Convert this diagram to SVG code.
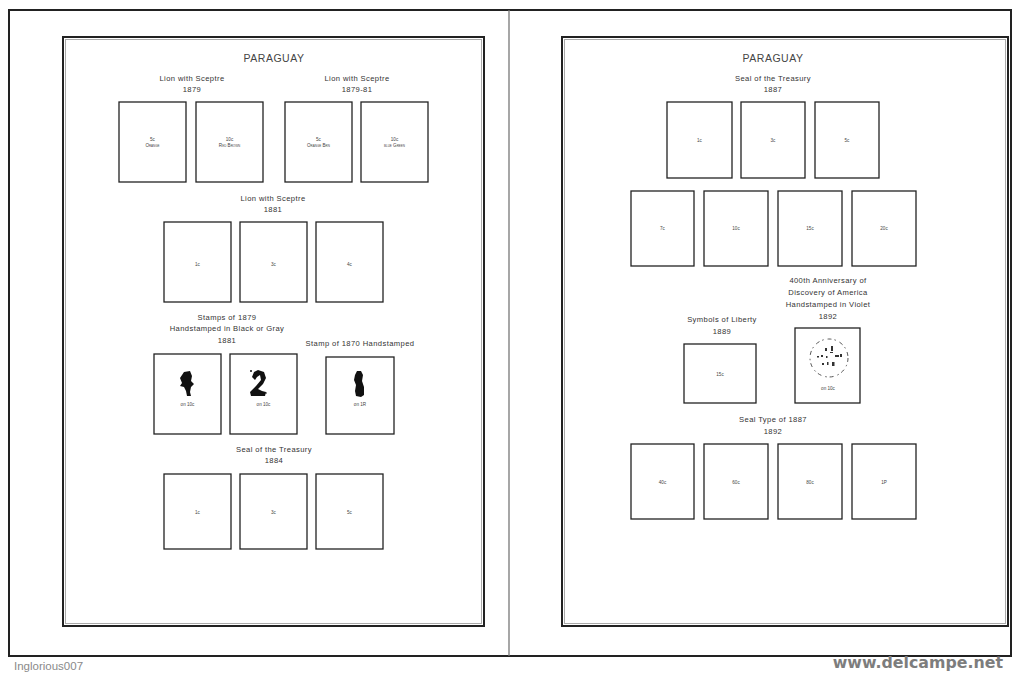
<svg xmlns="http://www.w3.org/2000/svg" width="1020" height="677" viewBox="0 0 1020 677">
<style>
.frame{fill:none;stroke:#222;stroke-width:2}
.pg{fill:#fff;stroke:#222;stroke-width:2}
.pgin{fill:none;stroke:#aaa;stroke-width:1}
.st{fill:#fff;stroke:#222;stroke-width:1.3}
.ttl{font-family:"Liberation Sans",Arial,sans-serif;font-size:10.5px;fill:#444;letter-spacing:0.5px;text-anchor:middle}
.hd{font-family:"Liberation Sans",Arial,sans-serif;font-size:7.6px;fill:#333;letter-spacing:0.4px;text-anchor:middle}
.sm{font-family:"Liberation Sans",Arial,sans-serif;font-size:4.6px;fill:#444;text-anchor:middle}
.sc{font-variant:small-caps}
.ink{fill:#111}
.ft1{font-family:"Liberation Sans",Arial,sans-serif;font-size:11.5px;fill:#8a8a8a}
.ft2{font-family:"DejaVu Sans",Verdana,sans-serif;font-size:15.8px;font-weight:bold;fill:#7d7d7d;text-anchor:end}
</style>
<rect width="1020" height="677" fill="#fff"/>
<rect class="frame" x="9" y="10" width="1002" height="646"/>
<line x1="509" y1="10" x2="509" y2="656" stroke="#777" stroke-width="1.3"/>

<g id="left-page">
<rect class="pg" x="63" y="37" width="421" height="589"/>
<rect class="pgin" x="65.5" y="39.5" width="416" height="584"/>
<text class="ttl" x="274" y="62">PARAGUAY</text>
</g>
<g id="right-page">
<rect class="pg" x="562" y="37" width="446" height="589"/>
<rect class="pgin" x="564.5" y="39.5" width="441" height="584"/>
<text class="ttl" x="773" y="62">PARAGUAY</text>
</g>

<g id="lion-1879">
<text class="hd" x="192" y="81">Lion with Sceptre</text>
<text class="hd" x="192" y="92">1879</text>
<rect class="st" x="119" y="102" width="67" height="80"/>
<text class="sm" x="152.5" y="141">5c</text>
<text class="sm sc" x="152.5" y="147">Orange</text>
<rect class="st" x="196" y="102" width="67" height="80"/>
<text class="sm" x="229.5" y="141">10c</text>
<text class="sm sc" x="229.5" y="147">Red Brown</text>
</g>
<g id="lion-1879-81">
<text class="hd" x="357" y="81">Lion with Sceptre</text>
<text class="hd" x="357" y="92">1879-81</text>
<rect class="st" x="285" y="102" width="67" height="80"/>
<text class="sm" x="318.5" y="141">5c</text>
<text class="sm sc" x="318.5" y="147">Orange Brn</text>
<rect class="st" x="361" y="102" width="67" height="80"/>
<text class="sm" x="394.5" y="141">10c</text>
<text class="sm sc" x="394.5" y="147">blue Green</text>
</g>

<g id="lion-1881">
<text class="hd" x="273" y="201">Lion with Sceptre</text>
<text class="hd" x="273" y="212">1881</text>
<rect class="st" x="164" y="222" width="67" height="80"/>
<text class="sm" x="197.5" y="266">1c</text>
<rect class="st" x="240" y="222" width="67" height="80"/>
<text class="sm" x="273.5" y="266">3c</text>
<rect class="st" x="316" y="222" width="67" height="80"/>
<text class="sm" x="349.5" y="266">4c</text>
</g>

<g id="handstamped-1881">
<text class="hd" x="227" y="320">Stamps of 1879</text>
<text class="hd" x="227" y="331">Handstamped in Black or Gray</text>
<text class="hd" x="227" y="343">1881</text>
<rect class="st" x="154" y="354" width="67" height="80"/>
<path class="ink" d="M184 372 L190 371 L192 376 L191 381 L194 384 L191 387 L190 392 L191 396 L187 396 L186 391 L184 387 L180 386 L182 383 L180 378 Z"/>
<text class="sm" x="187.5" y="406">on 10c</text>
<rect class="st" x="230" y="354" width="67" height="80"/>
<path class="ink" d="M254 372 L258 370 L264 372 L266 378 L263 384 L258 389 L262 391 L266 392 L265 396 L251 396 L250 392 L256 386 L261 380 L260 375 L257 377 L255 380 L252 377 Z"/>
<circle class="ink" cx="251" cy="371" r="1"/>
<circle class="ink" cx="266" cy="393" r="0.8"/>
<text class="sm" x="263.5" y="406">on 10c</text>
</g>
<g id="handstamped-1870">
<text class="hd" x="360" y="346">Stamp of 1870 Handstamped</text>
<rect class="st" x="326" y="357" width="68" height="77"/>
<path class="ink" d="M357 371 L361 371 L363 375 L362 381 L364 387 L364 395 L361 397 L356 396 L355 391 L356 385 L354 380 L355 375 Z"/>
<text class="sm" x="360" y="406">on 1R</text>
</g>

<g id="seal-1884">
<text class="hd" x="274" y="452">Seal of the Treasury</text>
<text class="hd" x="274" y="463">1884</text>
<rect class="st" x="164" y="474" width="67" height="75"/>
<text class="sm" x="197.5" y="514">1c</text>
<rect class="st" x="240" y="474" width="67" height="75"/>
<text class="sm" x="273.5" y="514">3c</text>
<rect class="st" x="316" y="474" width="67" height="75"/>
<text class="sm" x="349.5" y="514">5c</text>
</g>

<g id="seal-1887">
<text class="hd" x="773" y="81">Seal of the Treasury</text>
<text class="hd" x="773" y="92">1887</text>
<rect class="st" x="667" y="102" width="65" height="76"/>
<text class="sm" x="699.5" y="142">1c</text>
<rect class="st" x="741" y="102" width="64" height="76"/>
<text class="sm" x="773" y="142">3c</text>
<rect class="st" x="815" y="102" width="64" height="76"/>
<text class="sm" x="847" y="142">5c</text>
<rect class="st" x="631" y="191" width="63" height="75"/>
<text class="sm" x="662.5" y="230">7c</text>
<rect class="st" x="704" y="191" width="64" height="75"/>
<text class="sm" x="736" y="230">10c</text>
<rect class="st" x="778" y="191" width="64" height="75"/>
<text class="sm" x="810" y="230">15c</text>
<rect class="st" x="852" y="191" width="64" height="75"/>
<text class="sm" x="884" y="230">20c</text>
</g>

<g id="liberty-1889">
<text class="hd" x="722" y="322">Symbols of Liberty</text>
<text class="hd" x="722" y="334">1889</text>
<rect class="st" x="684" y="344" width="72" height="59"/>
<text class="sm" x="720" y="376">15c</text>
</g>

<g id="discovery-1892">
<text class="hd" x="828" y="283">400th Anniversary of</text>
<text class="hd" x="828" y="295">Discovery of America</text>
<text class="hd" x="828" y="307">Handstamped in Violet</text>
<text class="hd" x="828" y="319">1892</text>
<rect class="st" x="795" y="328" width="65" height="75"/>
<circle cx="829" cy="358" r="19" fill="none" stroke="#444" stroke-width="0.9" stroke-dasharray="4 3 1.5 4"/>
<path d="M825 348 h2 v3 h-2z M831 346 h2 v5 h-2z M817 356 h2 v1.5 h-2z M821 355 h2 v2 h-2z M826 356 h1.5 v2 h-1.5z M835 355 h4 v2 h-4z M840 354 h2 v3 h-2z M822 363 h2 v2 h-2z M827 362 h1.5 v3 h-1.5z M832 362 h2.5 v4 h-2.5z M830 352 h3 v1 h-3z" fill="#333"/>
<text class="sm" x="828" y="390">on 10c</text>
</g>

<g id="seal-type-1892">
<text class="hd" x="773" y="422">Seal Type of 1887</text>
<text class="hd" x="773" y="434">1892</text>
<rect class="st" x="631" y="444" width="63" height="75"/>
<text class="sm" x="662.5" y="484">40c</text>
<rect class="st" x="704" y="444" width="64" height="75"/>
<text class="sm" x="736" y="484">60c</text>
<rect class="st" x="778" y="444" width="64" height="75"/>
<text class="sm" x="810" y="484">80c</text>
<rect class="st" x="852" y="444" width="64" height="75"/>
<text class="sm" x="884" y="484">1P</text>
</g>

<g id="footer">
<text class="ft1" x="14" y="670">Inglorious007</text>
<text class="ft2" x="1003" y="668">www.delcampe.net</text>
</g>
<g id="connectors"></g>
</svg>
